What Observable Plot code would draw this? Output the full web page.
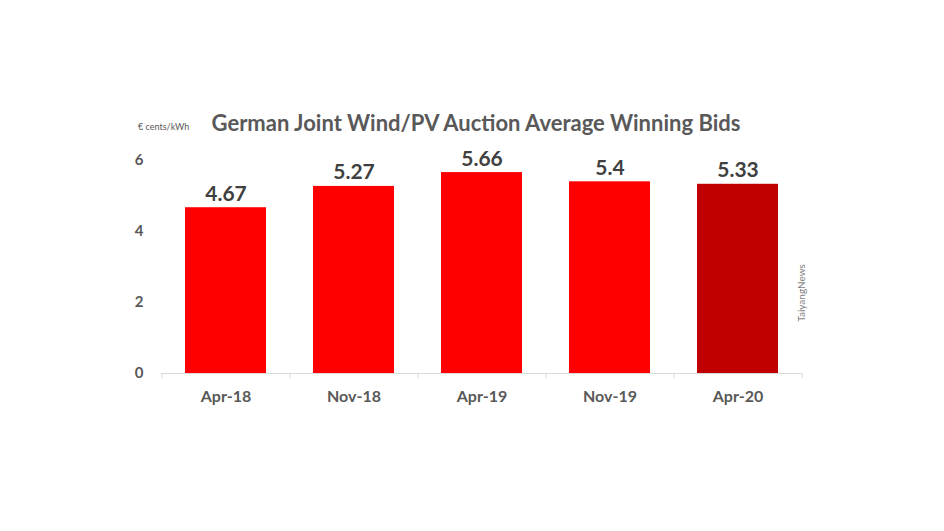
<!DOCTYPE html>
<html>
<head>
<meta charset="utf-8">
<script src="https://cdn.jsdelivr.net/npm/d3@7"></script>
<script src="https://cdn.jsdelivr.net/npm/@observablehq/plot@0.6"></script>
<style>
  html, body { margin: 0; padding: 0; background: #fff; }
  #wrap { position: relative; width: 944px; height: 531px; font-family: Lato, "Open Sans", sans-serif; }
  #title { position: absolute; top: 109px; left: 4px; width: 944px; text-align: center; font-size: 22px; font-weight: 700; color: #595959; }
  #unit { position: absolute; top: 121px; left: 138px; font-size: 9px; color: #595959; }
  #chart { position: absolute; top: 0; left: 0; }
</style>
</head>
<body>
<div id="wrap">
  <div id="chart"></div>
  <div id="title">German Joint Wind/PV Auction Average Winning Bids</div>
  <div id="unit">€ cents/kWh</div>
</div>
<script>
const categories = ["Apr-18", "Nov-18", "Apr-19", "Nov-19", "Apr-20"];
const values = [4.67, 5.27, 5.66, 5.4, 5.33];
const valueLabels = ["4.67", "5.27", "5.66", "5.4", "5.33"];
const yTicks = [0, 2, 4, 6];
const barColors = ["#FF0000", "#FF0000", "#FF0000", "#FF0000", "#C00000"];

const data = categories.map((c, i) => ({cat: c, value: values[i], label: valueLabels[i], color: barColors[i]}));

const W = 944, H = 531, ML = 161, MR = 142, MT = 160, MB = 158;
const step = (W - ML - MR) / categories.length;

const plot = Plot.plot({
  width: W,
  height: H,
  marginLeft: ML,
  marginRight: MR,
  marginTop: MT,
  marginBottom: MB,
  style: {fontFamily: "Lato, 'Open Sans', sans-serif", background: "#fff"},
  x: {domain: categories, paddingInner: 0.37, paddingOuter: 0.185, label: null},
  y: {domain: [0, 6], ticks: yTicks, label: null},
  marks: [
    Plot.barY(data, {x: "cat", y: "value", fill: "color"}),
    Plot.ruleY([0], {stroke: "#d9d9d9", strokeWidth: 1}),
    Plot.ruleX(data, {x: "cat", y1: 0, y2: 0, dx: -step / 2, insetBottom: -5, stroke: "#d9d9d9"}),
    Plot.ruleX(data.slice(-1), {x: "cat", y1: 0, y2: 0, dx: step / 2, insetBottom: -5, stroke: "#d9d9d9"}),
    Plot.text(data, {x: "cat", y: "value", text: "label", lineAnchor: "bottom", dy: -7, fontSize: 21, fontWeight: 700, fill: "#404040"}),
    Plot.axisX({tickSize: 0, tickPadding: 17, fontSize: 16, fontWeight: 700, fill: "#595959", label: null}),
    Plot.axisY({ticks: yTicks, tickFormat: "d", tickSize: 0, tickPadding: 18, fontSize: 15, fontWeight: 700, fill: "#595959", label: null}),
    Plot.text(["TaiyangNews"], {frameAnchor: "right", textAnchor: "middle", rotate: -90, dx: -1, dy: 26, fontSize: 10, fill: "#7f7f7f"})
  ]
});
document.getElementById("chart").appendChild(plot);
</script>
</body>
</html>
